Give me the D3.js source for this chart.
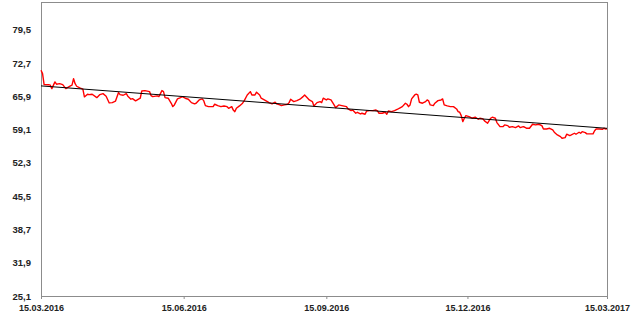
<!DOCTYPE html>
<html>
<head>
<meta charset="utf-8">
<script src="https://cdn.jsdelivr.net/npm/d3@7"></script>
<style>
  html, body { margin: 0; padding: 0; background: #fff; }
  svg { display: block; }
  text { font-family: "Liberation Sans", Arial, sans-serif; font-weight: bold; fill: #222; }
</style>
</head>
<body>
<svg id="chart" width="632" height="322"></svg>
<script>
// ---- data ----
const startDate = "2016-03-15";
const endDate = "2017-03-15";
// days after start date
const days = [0,1,2,5,6,7,9,10,12,14,16,19,20,21,22,23,25,27,28,30,31,33,36,38,40,42,44,46,48,50,51,53,55,56,58,59,61,64,65,67,70,71,72,75,76,78,79,80,82,84,85,86,88,90,91,93,95,97,99,100,102,104,105,106,108,111,112,114,116,118,120,121,123,124,125,126,128,130,131,133,135,136,138,139,141,142,144,146,147,149,151,152,154,155,157,159,160,161,163,165,167,169,170,172,173,175,176,178,180,181,182,184,185,187,189,190,192,194,197,198,200,201,203,204,206,207,209,210,212,214,216,217,218,220,222,223,224,226,228,230,231,233,235,236,237,238,239,241,242,243,244,246,248,249,250,251,253,254,256,258,259,260,262,264,266,268,269,270,271,272,273,274,276,278,280,282,283,285,286,288,290,291,293,294,296,298,299,301,302,304,306,308,309,311,312,313,315,317,319,321,323,324,326,328,330,331,333,335,336,338,339,341,342,344,345,347,348,349,351,352,354,356,357,358,360,362,363,364,365];
const prices = [71.26,70.56,68.31,68.3,68.2,67.5,68.87,68.4,68.52,68.3,67.5,68.05,68.2,69.54,68.5,67.98,67.64,67.37,65.8,66.35,66.27,66.35,65.65,66.27,66.47,65.94,64.57,64.64,64.92,66.68,66.27,66.14,66.47,65.94,65.33,65.45,65.0,65.53,67.02,67.09,66.88,66.06,65.86,66.0,65.86,67.09,66.88,65.65,65.53,64.5,63.81,64.16,65.39,65.65,65.86,65.53,65.33,64.63,64.37,64.5,65.18,65.39,64.98,64.02,63.81,63.81,64.3,64.02,63.81,63.95,63.81,63.48,63.81,63.1,62.79,63.48,63.96,64.51,64.98,66.2,66.88,66.2,66.2,66.76,66.2,65.53,65.18,64.84,64.63,64.37,64.71,64.37,64.16,64.02,64.16,64.3,64.63,65.33,64.84,65.04,65.33,65.86,66.2,65.53,65.18,64.84,63.96,64.63,64.84,64.63,65.53,65.18,65.39,65.18,64.16,63.61,64.16,64.02,63.81,63.34,62.99,63.13,62.46,62.66,62.32,62.46,62.26,62.93,62.99,62.99,63.13,62.93,62.46,62.46,62.66,62.26,62.93,62.79,62.99,63.28,63.48,63.81,64.51,64.3,63.81,64.16,65.39,66.2,66.35,66.2,64.71,64.51,64.84,65.18,64.98,64.16,64.02,64.51,65.04,65.18,65.39,64.16,63.96,63.81,63.81,63.34,62.79,62.66,61.97,60.75,61.44,61.97,61.77,61.44,61.65,61.24,61.44,61.3,60.89,60.42,61.44,61.65,61.44,60.55,59.73,59.73,60.07,59.93,59.6,59.73,59.52,59.87,59.52,59.73,59.6,59.4,59.39,60.21,60.07,60.21,59.93,59.25,59.25,59.39,59.04,58.58,58.03,57.68,57.35,57.47,58.17,57.88,58.03,58.37,58.17,58.58,58.37,58.7,58.5,58.24,58.24,58.24,58.89,59.25,59.25,59.18,59.39,59.25,59.3];
// linear trend: value at start and end dates
const trendValues = [68.05, 59.38];
const yTicks = [25.1, 31.9, 38.7, 45.5, 52.3, 59.1, 65.9, 72.7, 79.5];
const yMin = 25.1, yMax = 85.1;
const xTickDates = ["2016-03-15", "2016-06-15", "2016-09-15", "2016-12-15", "2017-03-15"];

// ---- chart ----
const parse = d3.utcParse("%Y-%m-%d");
const t0 = parse(startDate), t1 = parse(endDate);
const series = days.map((d, i) => ({ date: d3.utcDay.offset(t0, d), value: prices[i] }));
const trend = [{ date: t0, value: trendValues[0] }, { date: t1, value: trendValues[1] }];

const svg = d3.select("#chart");
const L = 41, R = 607, T = 2.5, B = 296;
const x = d3.scaleUtc().domain([t0, t1]).range([L, R]);
const y = d3.scaleLinear().domain([yMin, yMax]).range([B, T]);
const axisColor = "#8c8c8c";

// plot border
svg.append("rect").attr("x", L).attr("y", T).attr("width", R - L).attr("height", B - T)
  .attr("fill", "none").attr("stroke", axisColor).attr("stroke-width", 1)
  .attr("shape-rendering", "crispEdges");

// y axis (labels only)
const yAxis = d3.axisLeft(y).tickValues(yTicks).tickSize(0).tickPadding(10)
  .tickFormat(d => d3.format(".1f")(d).replace(".", ","));
const gy = svg.append("g").attr("transform", `translate(${L},0)`).call(yAxis);
gy.select(".domain").remove();
gy.selectAll("text").attr("font-size", "9.5px").attr("font-family", null).attr("fill", "#222");

// x axis
const xAxis = d3.axisBottom(x).tickValues(xTickDates.map(parse)).tickSize(3).tickPadding(6)
  .tickFormat(d3.utcFormat("%d.%m.%Y"));
const gx = svg.append("g").attr("transform", `translate(0,${B})`).call(xAxis);
gx.select(".domain").attr("stroke", axisColor);
gx.selectAll(".tick line").attr("stroke", axisColor);
gx.selectAll("text").attr("font-size", "9px").attr("font-family", null).attr("fill", "#222");

// price line
const line = d3.line().x(d => x(d.date)).y(d => y(d.value));
svg.append("path").datum(series).attr("d", line)
  .attr("fill", "none").attr("stroke", "#ff0000").attr("stroke-width", 1.4).attr("stroke-linejoin", "round");

// trend line
svg.append("path").datum(trend).attr("d", line)
  .attr("fill", "none").attr("stroke", "#000").attr("stroke-width", 1);
</script>
</body>
</html>
